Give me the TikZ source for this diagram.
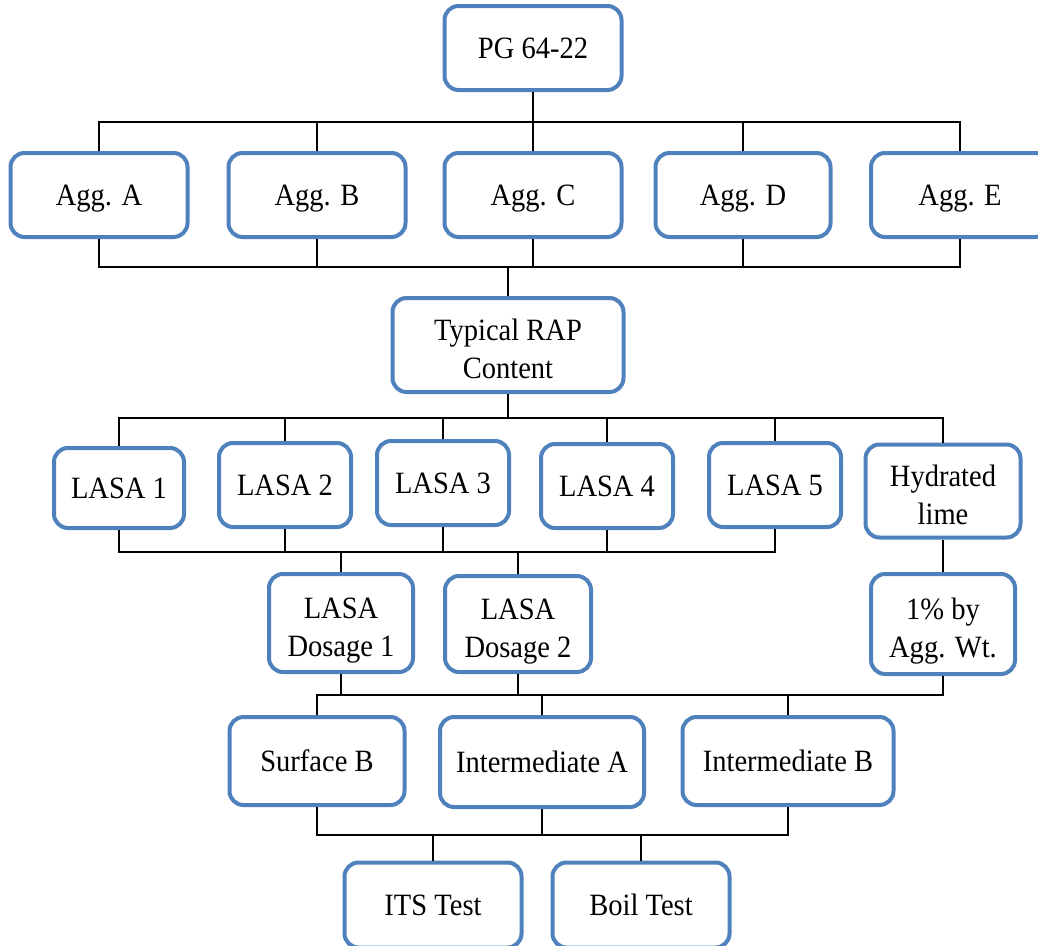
\documentclass[tikz,border=0pt]{standalone}
\usepackage{fontspec}
\setmainfont{Liberation Serif}[FakeStretch=0.92]
\definecolor{boxblue}{HTML}{4F81BD}
\tikzset{
  box/.style={draw=boxblue, line width=4pt, rounded corners=14pt, fill=white,
    align=center, inner sep=0pt, font=\fontsize{31}{38}\selectfont},
  oneline/.style={text height=24pt, text depth=3.5pt},
  twoline/.style={text height=70pt, text depth=3.5pt},
  conn/.style={draw=black, line width=1.8pt}
}
\begin{document}
\begin{tikzpicture}[x=1pt,y=-1pt]
\useasboundingbox (0,0) rectangle (1038,945);
% nodes
\node[box, oneline, minimum width=177pt, minimum height=84pt] (pg) at (533,48) {PG 64-22};
\node[box, oneline, minimum width=177pt, minimum height=84pt] (aggA) at (99,195) {Agg. A};
\node[box, oneline, minimum width=177pt, minimum height=84pt] (aggB) at (317,195) {Agg. B};
\node[box, oneline, minimum width=177pt, minimum height=84pt] (aggC) at (533,195) {Agg. C};
\node[box, oneline, minimum width=175pt, minimum height=84pt] (aggD) at (743,195) {Agg. D};
\node[box, oneline, minimum width=178pt, minimum height=84pt] (aggE) at (960,195) {Agg. E};
\node[box, twoline, minimum width=231pt, minimum height=94pt] (rap) at (508,345) {Typical RAP\\Content};
\node[box, oneline, minimum width=130pt, minimum height=80pt] (l1) at (119,488) {LASA 1};
\node[box, oneline, minimum width=132pt, minimum height=84pt] (l2) at (285,485) {LASA 2};
\node[box, oneline, minimum width=132pt, minimum height=84pt] (l3) at (443,483) {LASA 3};
\node[box, oneline, minimum width=132pt, minimum height=84pt] (l4) at (607,486) {LASA 4};
\node[box, oneline, minimum width=132pt, minimum height=84pt] (l5) at (775,485) {LASA 5};
\node[box, twoline, minimum width=155pt, minimum height=93pt] (hyd) at (943,491) {Hydrated\\lime};
\node[box, twoline, minimum width=144pt, minimum height=98pt] (d1) at (341,623) {LASA\\Dosage 1};
\node[box, twoline, minimum width=146pt, minimum height=96pt] (d2) at (518,624) {LASA\\Dosage 2};
\node[box, twoline, minimum width=144pt, minimum height=100pt] (pct) at (943,624) {1\% by\\Agg. Wt.};
\node[box, oneline, minimum width=175pt, minimum height=88pt] (surf) at (317,761) {Surface B};
\node[box, oneline, minimum width=204pt, minimum height=90pt] (intA) at (542,762) {Intermediate A};
\node[box, oneline, minimum width=211pt, minimum height=88pt] (intB) at (788,761) {Intermediate B};
\node[box, oneline, minimum width=177pt, minimum height=85pt] (its) at (433,905) {ITS Test};
\node[box, oneline, minimum width=177pt, minimum height=85pt] (boil) at (641,905) {Boil Test};
% bus coordinates
\coordinate (b1) at (533,122);
\coordinate (b2) at (508,267);
\coordinate (b3) at (508,418);
\coordinate (b4a) at (341,552);
\coordinate (b4b) at (518,552);
\coordinate (b5) at (542,695);
\coordinate (b6) at (542,835);
% connectors
\draw[conn] (pg.south) -- (b1);
\foreach \n in {aggA,aggB,aggC,aggD,aggE} \draw[conn] (\n.north) |- (b1);
\foreach \n in {aggA,aggB,aggC,aggD,aggE} \draw[conn] (\n.south) |- (b2);
\draw[conn] (b2) -- (rap.north);
\draw[conn] (rap.south) -- (b3);
\foreach \n in {l1,l2,l3,l4,l5,hyd} \draw[conn] (\n.north) |- (b3);
\foreach \n in {l1,l2,l3} \draw[conn] (\n.south) |- (b4a);
\draw[conn] (b4a) -- (d1.north);
\foreach \n in {l3,l4,l5} \draw[conn] (\n.south) |- (b4b);
\draw[conn] (b4b) -- (d2.north);
\draw[conn] (hyd.south) -- (pct.north);
\foreach \n in {d1,d2,pct} \draw[conn] (\n.south) |- (b5);
\foreach \n in {surf,intA,intB} \draw[conn] (\n.north) |- (b5);
\foreach \n in {surf,intA,intB} \draw[conn] (\n.south) |- (b6);
\foreach \n in {its,boil} \draw[conn] (\n.north) |- (b6);
\end{tikzpicture}
\end{document}
